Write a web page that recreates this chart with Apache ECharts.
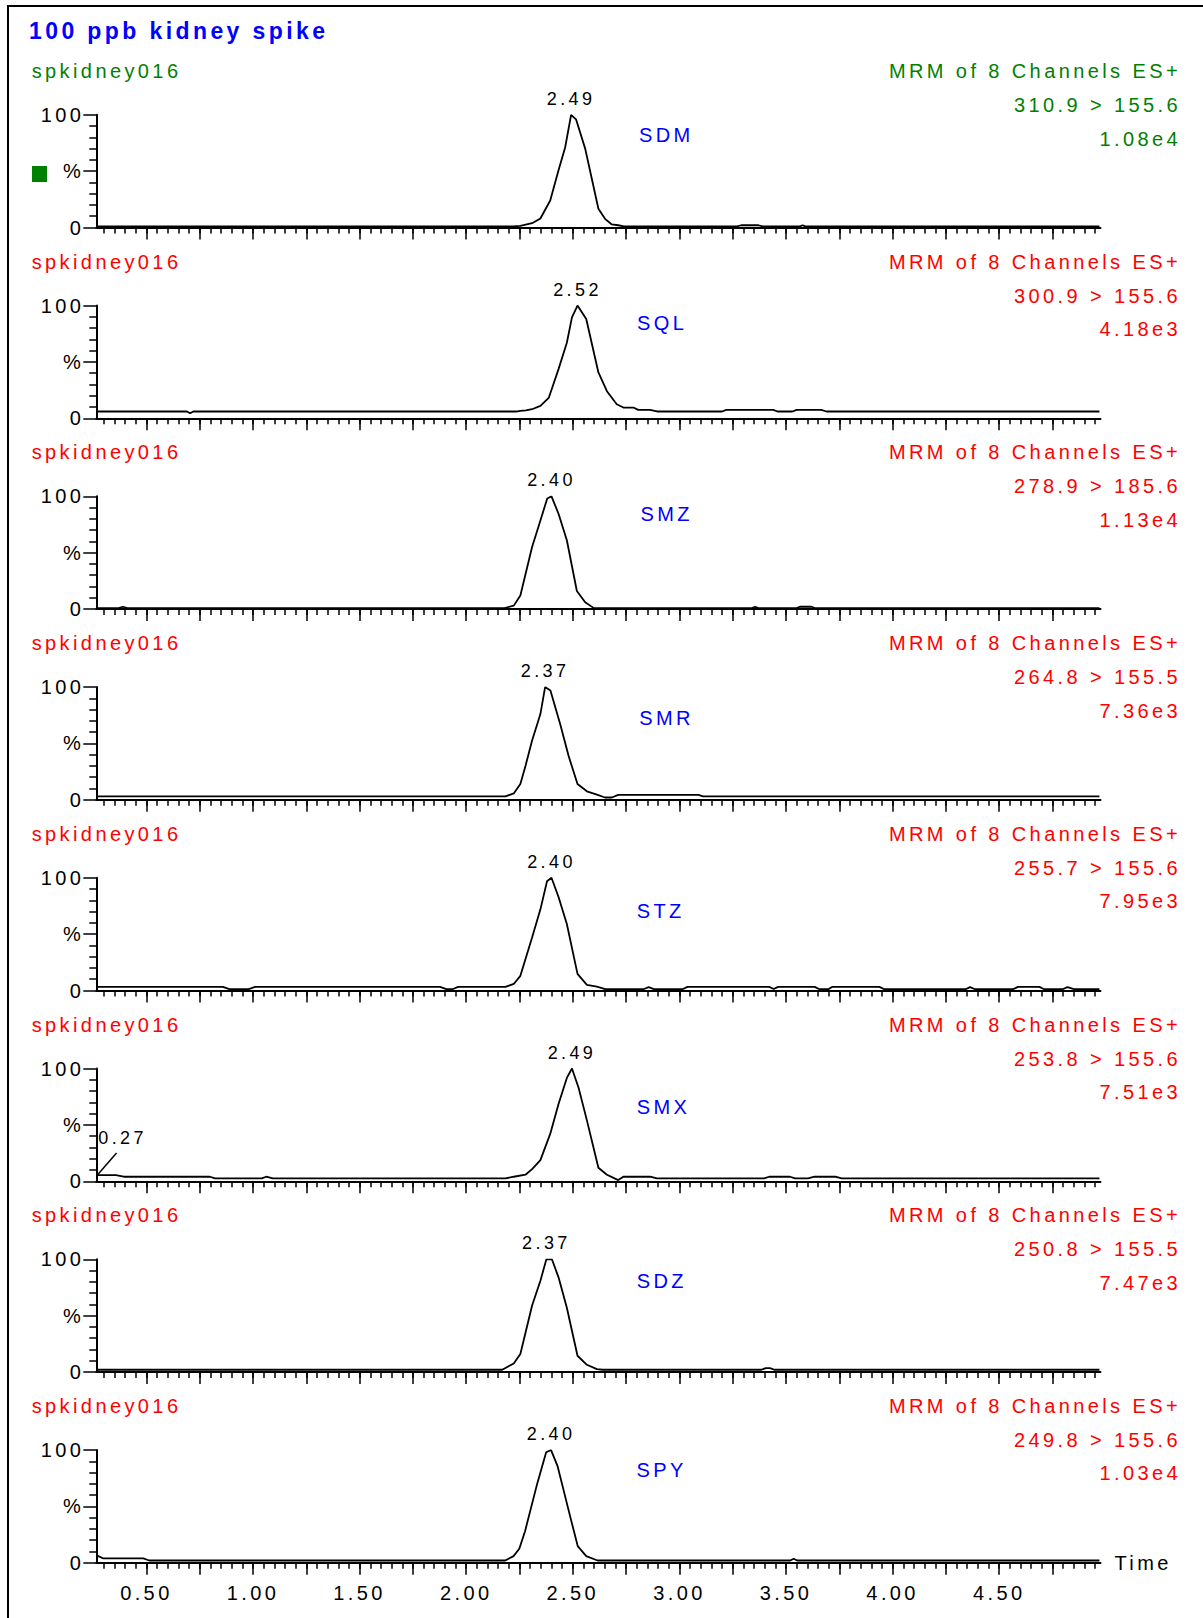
<!DOCTYPE html>
<html><head><meta charset="utf-8">
<script src="https://cdn.jsdelivr.net/npm/echarts@6/dist/echarts.min.js"></script>
<style>
html,body{margin:0;padding:0;background:#fff;}
#chart{width:1203px;height:1618px;}
#chart text{letter-spacing:3.4px;}
</style></head><body><div id="chart"></div>
<script>
// ---------- data ----------
const chartTitle = '100 ppb kidney spike';
const sampleName = 'spkidney016';
const channelTitle = 'MRM of 8 Channels ES+';
const compounds = ['SDM','SQL','SMZ','SMR','STZ','SMX','SDZ','SPY'];
const transitions = ['310.9 > 155.6','300.9 > 155.6','278.9 > 185.6','264.8 > 155.5','255.7 > 155.6','253.8 > 155.6','250.8 > 155.5','249.8 > 155.6'];
const intensities = ['1.08e4','4.18e3','1.13e4','7.36e3','7.95e3','7.51e3','7.47e3','1.03e4'];
const peakLabels = ['2.49','2.52','2.40','2.37','2.40','2.49','2.37','2.40'];
const xTickLabels = ['0.50','1.00','1.50','2.00','2.50','3.00','3.50','4.00','4.50'];
const yTickLabels = ['0','%','100'];
const startLabel = '0.27';

// [time (min), relative intensity %]
const sdm = [[0.27,1],[2.22,1],[2.254,1.5],[2.309,3.8],[2.348,8],[2.394,24],[2.433,50.7],[2.464,71],[2.492,100],[2.515,96],[2.558,70],[2.594,39],[2.62,16.6],[2.651,7.7],[2.683,2.7],[2.713,2],[2.74,1],[3.27,1],[3.29,2],[3.37,2],[3.39,1],[3.565,1],[3.578,2],[3.59,1],[4.97,1]];
const sql = [[0.27,6],[0.69,6],[0.705,4.5],[0.72,6],[2.24,6],[2.254,6.5],[2.28,7],[2.309,8],[2.348,11],[2.387,18],[2.433,43.6],[2.472,67],[2.496,89.5],[2.522,100],[2.563,88],[2.62,40.6],[2.66,24],[2.706,12.4],[2.737,9.5],[2.784,9.5],[2.807,7.4],[2.862,7.4],[2.895,6],[3.2,6],[3.22,7.5],[3.44,7.5],[3.46,6],[3.53,6],[3.55,7.5],[3.665,7.5],[3.69,6],[4.97,6]];
const smz = [[0.27,0.8],[0.37,0.8],[0.39,2],[0.41,0.8],[2.18,0.8],[2.223,3],[2.254,12],[2.309,55],[2.348,78.6],[2.38,98],[2.40,100],[2.433,84.5],[2.472,61],[2.519,16],[2.558,6],[2.597,1],[2.62,0.8],[3.34,0.8],[3.355,2],[3.37,0.8],[3.55,0.8],[3.565,2],[3.62,2],[3.635,0.8],[4.97,0.8]];
const smr = [[0.27,3],[2.184,3],[2.223,5.6],[2.254,14],[2.278,30],[2.309,52.5],[2.348,76],[2.37,100],[2.395,97],[2.441,67],[2.48,39],[2.522,14],[2.566,7.5],[2.613,4.5],[2.651,2],[2.683,2],[2.713,4.3],[3.09,4.3],[3.11,3],[4.97,3]];
const stz = [[0.27,3.2],[0.859,3.2],[0.889,1.3],[0.98,1.3],[1.01,3.2],[1.877,3.2],[1.907,1.3],[1.938,1.3],[1.962,3.2],[2.184,3.2],[2.223,5.8],[2.254,13],[2.309,47],[2.348,72],[2.379,97],[2.40,100],[2.433,83],[2.472,59],[2.522,14.7],[2.566,5],[2.613,3.4],[2.652,1.3],[2.834,1.3],[2.856,3],[2.88,1.3],[3.017,1.3],[3.038,3.2],[3.421,3.2],[3.442,1.3],[3.463,3.2],[3.634,3.2],[3.655,1.3],[3.70,1.3],[3.716,3.2],[3.938,3.2],[3.959,1.3],[4.345,1.3],[4.363,3],[4.384,1.3],[4.567,1.3],[4.588,3.2],[4.688,3.2],[4.709,1.3],[4.80,1.3],[4.82,3],[4.85,1.3],[4.97,1.3]];
const smx = [[0.27,5.5],[0.357,5.5],[0.394,4],[0.798,4],[0.822,2.5],[1.041,2.5],[1.062,4],[1.093,2.5],[2.184,2.5],[2.223,4],[2.278,5.8],[2.309,10.8],[2.348,18.8],[2.394,42],[2.433,68.6],[2.472,91.7],[2.496,100],[2.527,83],[2.566,54],[2.62,12],[2.66,5.8],[2.713,1],[2.737,4],[2.862,4],[2.895,2.5],[3.397,2.5],[3.421,4],[3.518,4],[3.543,2.5],[3.603,2.5],[3.634,4],[3.731,4],[3.761,2.5],[4.97,2.5]];
const sdz = [[0.27,2],[2.169,2],[2.223,7.6],[2.254,16],[2.309,59],[2.348,81],[2.376,100],[2.402,100],[2.433,84],[2.472,57],[2.522,14.4],[2.566,6.4],[2.613,2.6],[2.64,2],[3.385,2],[3.405,3.5],[3.425,3.5],[3.445,2],[4.97,2]];
const spy = [[0.267,6.5],[0.298,3.8],[0.486,3.8],[0.513,2],[2.183,2],[2.222,5.9],[2.249,12.4],[2.276,28],[2.33,68],[2.375,98],[2.398,100],[2.428,86],[2.491,38.5],[2.523,14.8],[2.563,5.9],[2.616,2],[3.52,2],[3.536,3.5],[3.552,2],[4.97,2]];
const traces = [sdm, sql, smz, smr, stz, smx, sdz, spy];

// ---------- layout ----------
const X_MIN = 0.265, X_MAX = 4.975;
const GRID_LEFT = 96.3, GRID_RIGHT = 102.5, GRID_TOP0 = 114.8, GRID_STEP = 190.75, GRID_H = 112.7;
const TEXT_TOP0 = 71, TEXT_STEP = 190.7;
const FONT = '"Liberation Sans", Arial, sans-serif';
const RED = '#ff0000', GREEN = '#008000', BLUE = '#0000ff';
const compoundPos = [[639,20],[637,17.5],[640.5,17.5],[639.3,31],[636.7,33],[636.7,38.5],[636.7,22],[636.5,20]];

const xLabelVals = xTickLabels.map(Number);
const majorTicks = [];
for (let k = 2; k <= 19; k++) majorTicks.push(+(k * 0.25).toFixed(2));
const minorTicks = [];
for (let k = 6; k <= 99; k++) minorTicks.push(+(k * 0.05).toFixed(2));

const grids = [], xAxes = [], yAxes = [], series = [], graphics = [];
const tickStyle = {color:'#000', width:1.5};

traces.forEach((data, i) => {
  const last = i === traces.length - 1;
  grids.push({left: GRID_LEFT, right: GRID_RIGHT, top: GRID_TOP0 + GRID_STEP * i, height: GRID_H});
  xAxes.push({
    type:'value', gridIndex:i, position:'bottom', min:X_MIN, max:X_MAX,
    axisLine:{show:true, onZero:false, lineStyle:{color:'#000', width:2}},
    axisTick:{show:true, customValues:majorTicks, length:12, lineStyle:tickStyle},
    axisLabel:{show:last, customValues:xLabelVals, margin:20, fontSize:20, fontFamily:FONT, color:'#000',
      formatter:(v)=>{const j = xLabelVals.findIndex(u=>Math.abs(u-v)<1e-6); return j>=0 ? xTickLabels[j] : '';}},
    splitLine:{show:false},
    name: last ? 'Time' : '', nameLocation:'end', nameGap:14,
    nameTextStyle:{fontSize:20, fontFamily:FONT, color:'#000', align:'left', verticalAlign:'middle'}
  });
  xAxes.push({
    type:'value', gridIndex:i, position:'bottom', min:X_MIN, max:X_MAX,
    axisLine:{show:false, onZero:false},
    axisTick:{show:true, customValues:minorTicks, length:6, lineStyle:tickStyle},
    axisLabel:{show:false}, splitLine:{show:false}
  });
  yAxes.push({
    type:'value', gridIndex:i, min:0, max:100, interval:50,
    axisLine:{show:true, lineStyle:{color:'#000', width:2}},
    axisTick:{show:true, length:13, lineStyle:tickStyle},
    minorTick:{show:true, splitNumber:5, length:7, lineStyle:tickStyle},
    axisLabel:{margin:12, fontSize:20, fontFamily:FONT, color:'#000',
      formatter:(v)=>yTickLabels[Math.round(v/50)]},
    splitLine:{show:false}, minorSplitLine:{show:false}
  });
  // apex for peak label
  let apex = data[0];
  data.forEach(p => { if (p[1] > apex[1]) apex = p; });
  const mpData = [{coord: apex, label:{position:'top', distance:7, formatter: peakLabels[i]}}];
  const s = {
    type:'line', xAxisIndex:2*i, yAxisIndex:i, data:data, showSymbol:false, silent:true,
    lineStyle:{color:'#000', width:1.8}, animation:false,
    markPoint:{symbol:'circle', symbolSize:0, silent:true, animation:false,
      label:{show:true, fontSize:18, fontFamily:FONT, color:'#000'},
      data: mpData}
  };
  if (compounds[i] === 'SMX') {
    const first = data[0];
    mpData.push({coord:[first[0] + 0.004, 38.5], label:{position:'right', distance:0, formatter:startLabel}});
    s.markLine = {symbol:'none', silent:true, animation:false, label:{show:false},
      lineStyle:{color:'#000', width:1.5, type:'solid'},
      data:[[{coord:first},{coord:[0.36,25]}]]};
  }
  series.push(s);

  // texts
  const ty = TEXT_TOP0 + TEXT_STEP * i;
  const col = i === 0 ? GREEN : RED;
  graphics.push({type:'text', x:31.7, y:ty, style:{text:sampleName, font:'20px '+FONT, fill:col, align:'left', verticalAlign:'middle'}});
  graphics.push({type:'text', x:1181, y:ty, style:{text:channelTitle, font:'20px '+FONT, fill:col, align:'right', verticalAlign:'middle'}});
  graphics.push({type:'text', x:1181, y:ty+34, style:{text:transitions[i], font:'20px '+FONT, fill:col, align:'right', verticalAlign:'middle'}});
  graphics.push({type:'text', x:1181, y:ty+67.5, style:{text:intensities[i], font:'20px '+FONT, fill:col, align:'right', verticalAlign:'middle'}});
  graphics.push({type:'text', x:compoundPos[i][0], y:GRID_TOP0 + GRID_STEP*i + compoundPos[i][1], style:{text:compounds[i], font:'20px '+FONT, fill:BLUE, align:'left', verticalAlign:'middle'}});
});

graphics.push({type:'rect', shape:{x:8, y:6, width:1240, height:1660}, style:{fill:'none', stroke:'#000', lineWidth:2}, silent:true});
graphics.push({type:'text', x:29, y:31, style:{text:chartTitle, font:'bold 23px '+FONT, fill:BLUE, align:'left', verticalAlign:'middle'}});
graphics.push({type:'rect', shape:{x:32, y:166, width:15, height:16}, style:{fill:GREEN}, silent:true});

const chart = echarts.init(document.getElementById('chart'), null, {renderer:'svg', width:1203, height:1618});
chart.setOption({
  animation:false,
  backgroundColor:'#fff',
  textStyle:{fontFamily:FONT},
  grid:grids, xAxis:xAxes, yAxis:yAxes, series:series, graphic:graphics
});
</script></body></html>
